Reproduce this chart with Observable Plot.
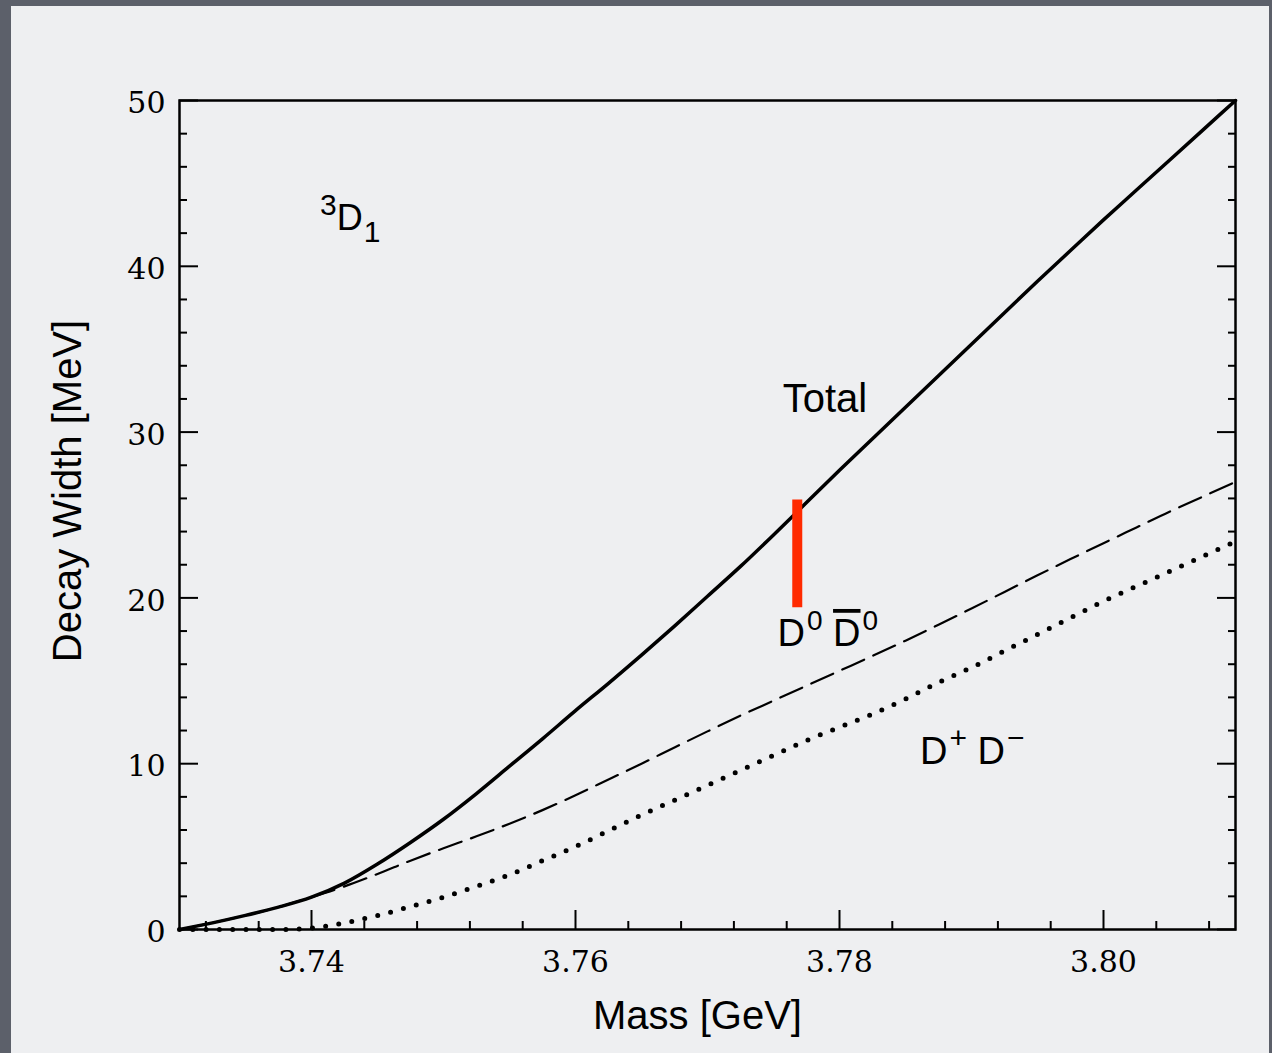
<!DOCTYPE html>
<html>
<head>
<meta charset="utf-8">
<script src="https://cdn.jsdelivr.net/npm/d3@7"></script>
<script src="https://cdn.jsdelivr.net/npm/@observablehq/plot@0.6"></script>
<style>
  html, body { margin: 0; padding: 0; }
  body { width: 1272px; height: 1053px; background: #5c606a; position: relative; overflow: hidden; }
  #panel { position: absolute; left: 11px; top: 6px; width: 1258px; height: 1047px; background: #eeeff1; }
  #panel svg { display: block; }
</style>
</head>
<body>
<div id="panel"></div>
<script>
// ---- data ----
const mass = [3.7300, 3.7325, 3.7350, 3.7375, 3.7400, 3.7425, 3.7450, 3.7475, 3.7500, 3.7525, 3.7550,
              3.7575, 3.7600, 3.7625, 3.7650, 3.7675, 3.7700, 3.7725, 3.7750, 3.7775, 3.7800, 3.7825,
              3.7850, 3.7875, 3.7900, 3.7925, 3.7950, 3.7975, 3.8000, 3.8025, 3.8050, 3.8075, 3.8100];
const totalWidth = [0, 0.4, 0.85, 1.35, 1.95, 2.8, 3.95, 5.25, 6.65, 8.2, 9.85,
                    11.5, 13.2, 14.85, 16.55, 18.3, 20.1, 21.9, 23.8, 25.75, 27.7, 29.6,
                    31.5, 33.4, 35.3, 37.2, 39.1, 40.95, 42.8, 44.6, 46.4, 48.2, 50.0];
const d0d0barWidth = [0, 0.4, 0.85, 1.35, 1.95, 2.6, 3.35, 4.15, 4.9, 5.62, 6.38,
                      7.2, 8.1, 9.05, 10.0, 10.98, 11.95, 12.9, 13.8, 14.7, 15.6, 16.5,
                      17.42, 18.38, 19.36, 20.36, 21.36, 22.34, 23.3, 24.25, 25.2, 26.1, 27.0];
const dplusdminusWidth = [0, 0, 0, 0, 0.08, 0.4, 0.84, 1.38, 1.95, 2.6, 3.3,
                          4.15, 5.0, 5.95, 6.9, 7.8, 8.7, 9.6, 10.5, 11.4, 12.2, 13.0,
                          13.9, 14.9, 15.8, 16.8, 17.8, 18.8, 19.8, 20.7, 21.6, 22.5, 23.4];

// measured psi(3770) width band
const psiMass = [3.7768];
const psiLow = [19.4];
const psiHigh = [25.9];

// ticks
const xMajor = [3.74, 3.76, 3.78, 3.80];
const xMinor = [3.732, 3.736, 3.744, 3.748, 3.752, 3.756, 3.764, 3.768, 3.772, 3.776,
                3.784, 3.788, 3.792, 3.796, 3.804, 3.808];
const yMajor = [0, 10, 20, 30, 40, 50];
const yMinor = [2, 4, 6, 8, 12, 14, 16, 18, 22, 24, 26, 28, 32, 34, 36, 38, 42, 44, 46, 48];

// annotations
const annX = [3.7405, 3.7757, 3.7753, 3.7861];
const annY = [42.2, 31.2, 17.1, 10.0];
const annText = ["³D₁", "Total", "D⁰ D̄⁰", "D⁺ D⁻"];
const annSize = [36, 40, 38, 38];
const annSmall = [0.82, 1, 0.74, 0.8];
const annParts = [
  [["3", "sup"], ["D", ""], ["1", "sub"]],
  [["Total", ""]],
  [["D", ""], ["0", "sup"], [" ", ""], ["D", "bar"], ["0", "sup"]],
  [["D", ""], ["+", "sup"], [" ", ""], ["D", ""], ["\u2212", "sup"]]
];

const rows = mass.map((m, i) => ({m, total: totalWidth[i], d0: d0d0barWidth[i], dp: dplusdminusWidth[i]}));
const psi = psiMass.map((m, i) => ({m, lo: psiLow[i], hi: psiHigh[i]}));
const ann = annX.map((x, i) => ({x, y: annY[i], t: annText[i], s: annSize[i]}));

const serif = "'DejaVu Serif', serif";
const sans = "'Liberation Sans', Arial, Helvetica, sans-serif";
const blank = () => "";

const plot = Plot.plot({
  width: 1258,
  height: 1047,
  marginLeft: 168,
  marginRight: 34,
  marginTop: 94,
  marginBottom: 124,
  x: {domain: [3.73, 3.81]},
  y: {domain: [0, 50]},
  style: {background: "transparent", color: "black", fontFamily: sans, overflow: "visible"},
  marks: [
    Plot.line(rows, {x: "m", y: "dp", stroke: "black", strokeWidth: 5, strokeDasharray: "0 13.3", strokeLinecap: "round", curve: "monotone-x"}),
    Plot.line(rows, {x: "m", y: "d0", stroke: "black", strokeWidth: 2.2, strokeDasharray: "24 10", curve: "monotone-x"}),
    Plot.line(rows, {x: "m", y: "total", stroke: "black", strokeWidth: 3.5, curve: "monotone-x"}),
    Plot.ruleX(psi, {x: "m", y1: "lo", y2: "hi", stroke: "#ff2a00", strokeWidth: 10}),
    // bottom axis
    Plot.axisX(xMinor, {tickSize: -8, tickFormat: blank, strokeWidth: 2, label: null}),
    Plot.axisX(xMajor, {tickSize: -19, tickFormat: blank, strokeWidth: 2, label: null}),
    Plot.axisX(xMajor, {tickSize: 0, tickPadding: 21, tickFormat: d3.format(".2f"), fontSize: 30, fontFamily: serif, label: null}),
    // left axis
    Plot.axisY(yMinor, {anchor: "left", tickSize: -8, tickFormat: blank, strokeWidth: 2, label: null}),
    Plot.axisY(yMajor, {anchor: "left", tickSize: -19, tickFormat: blank, strokeWidth: 2, label: null}),
    Plot.axisY(yMajor, {anchor: "left", tickSize: 0, tickPadding: 14, dy: 3, tickFormat: d3.format("d"), fontSize: 30, fontFamily: serif, label: null}),
    // right axis (ticks only)
    Plot.axisY(yMinor, {anchor: "right", tickSize: -8, tickFormat: blank, strokeWidth: 2, label: null}),
    Plot.axisY(yMajor, {anchor: "right", tickSize: -19, tickFormat: blank, strokeWidth: 2, label: null}),
    Plot.frame({stroke: "black", strokeWidth: 2.5}),
    // axis titles
    Plot.text(["Mass [GeV]"], {frameAnchor: "bottom", dy: 99, dx: -10, lineAnchor: "bottom", textAnchor: "middle", fontSize: 40, fontFamily: sans}),
    Plot.text(["Decay Width [MeV]"], {frameAnchor: "left", rotate: -90, dx: -99, dy: -24, lineAnchor: "bottom", textAnchor: "middle", fontSize: 40, fontFamily: sans}),
    // annotations
    Plot.text(ann, {x: "x", y: "y", text: "t", fontSize: "s", textAnchor: "start", lineAnchor: "bottom", fontFamily: sans, className: "ann"})
  ]
});

// rich-text annotations (superscripts, subscripts, overbar)
plot.querySelectorAll("g.ann text").forEach((el, i) => {
  const parts = annParts[i];
  if (!parts) return;
  const size = annSize[i];
  const small = Math.round(size * annSmall[i]);
  const raise = Math.round(size * 0.42);
  const lower = Math.round(size * 0.32);
  while (el.firstChild) el.removeChild(el.firstChild);
  let shift = 0;
  parts.forEach(([txt, kind]) => {
    const ts = document.createElementNS("http://www.w3.org/2000/svg", "tspan");
    ts.textContent = txt;
    let target = 0;
    if (kind === "sup") { target = -raise; ts.setAttribute("font-size", small); ts.setAttribute("dx", 2); }
    else if (kind === "sub") { target = lower; ts.setAttribute("font-size", small); ts.setAttribute("dx", 1); }
    if (kind === "bar") { ts.setAttribute("text-decoration", "overline"); ts.style.textDecoration = "overline"; ts.style.textDecorationThickness = "4px"; }
    const d = target - shift;
    if (d !== 0) ts.setAttribute("dy", d);
    shift = target;
    el.appendChild(ts);
  });
  el.setAttribute("xml:space", "preserve");
  el.style.whiteSpace = "pre";
});

document.getElementById("panel").appendChild(plot);
</script>
</body>
</html>
